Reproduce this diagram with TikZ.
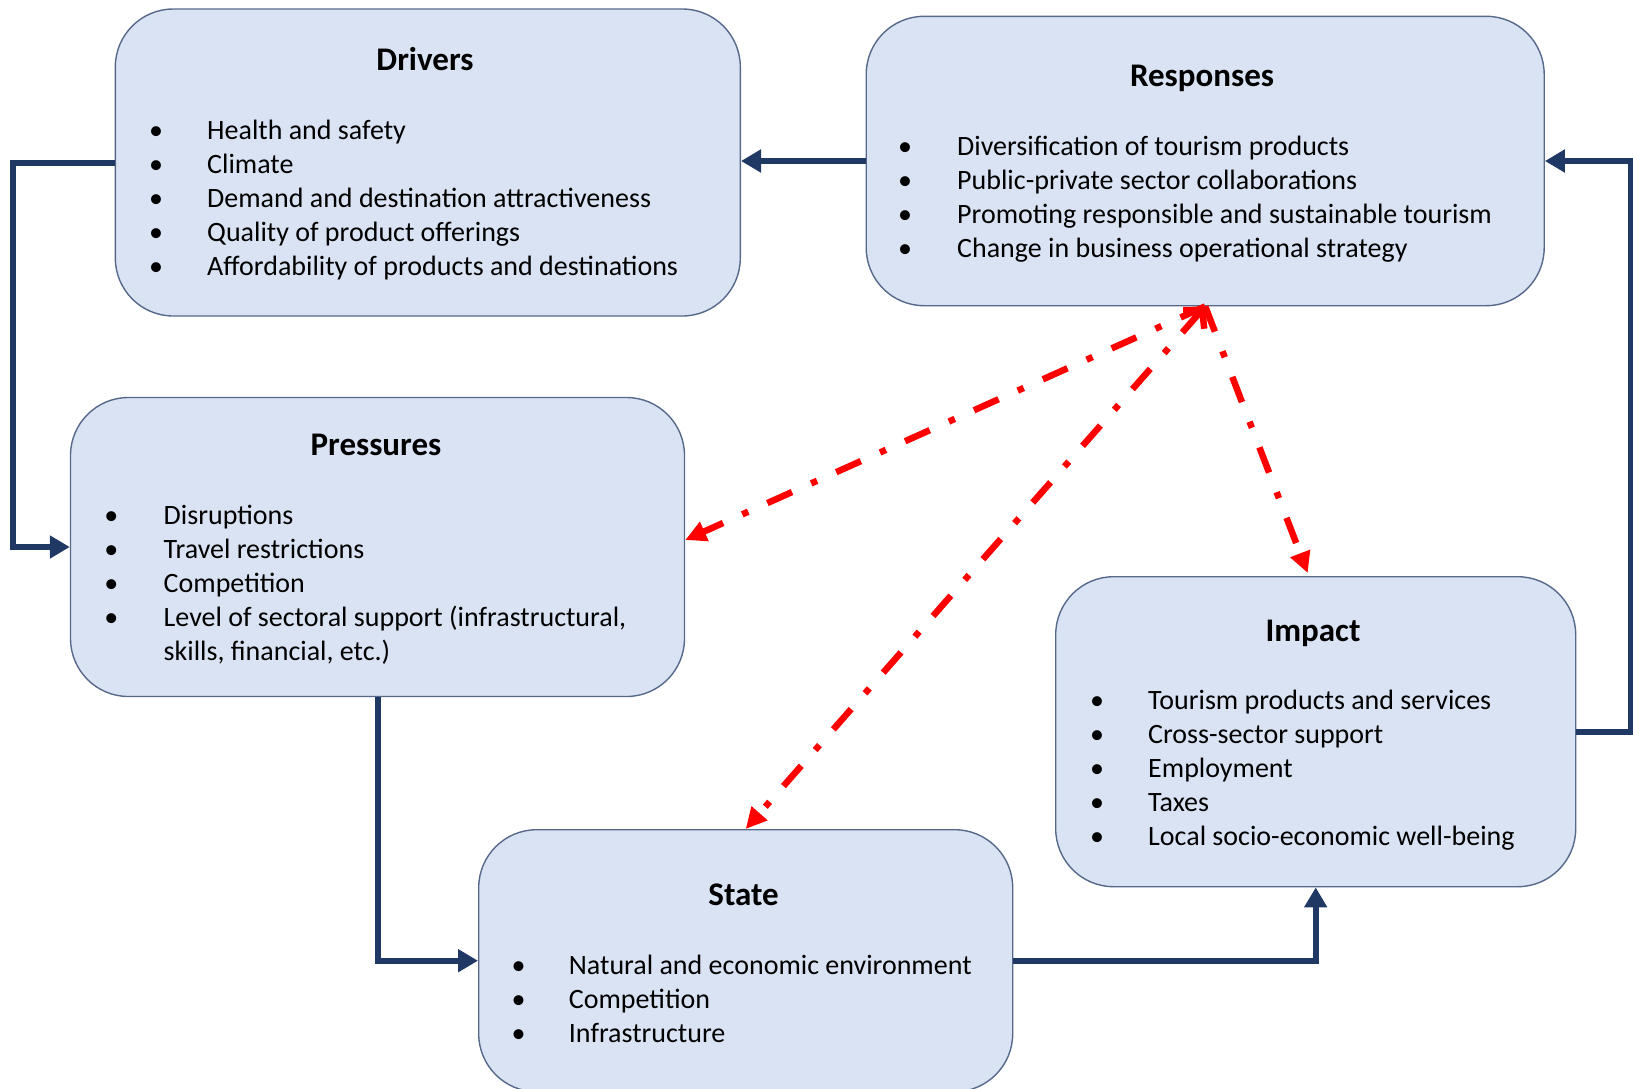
\documentclass[tikz,border=0pt]{standalone}
\usepackage{fontspec}
\setmainfont{Carlito}
\usetikzlibrary{arrows.meta,calc}
\definecolor{boxfill}{HTML}{DAE3F3}
\definecolor{boxline}{HTML}{56698A}
\definecolor{navy}{HTML}{203864}
\definecolor{redarr}{HTML}{FF0000}
\begin{document}
\begin{tikzpicture}[x=1pt,y=-1pt,
  panel/.style={draw=boxline, line width=1.4pt, fill=boxfill, rounded corners=58pt, anchor=north west, inner sep=0pt},
  ttl/.style={font=\fontsize{33}{40}\selectfont\bfseries, anchor=base, inner sep=0pt},
  item/.style={font=\fontsize{28}{34}\selectfont, anchor=base west, inner sep=0pt},
  bul/.style={font=\fontsize{28}{34}\selectfont, anchor=base, inner sep=0pt},
  flow/.style={draw=navy, line width=6pt, -{Triangle[length=20pt,width=22pt]}},
  react/.style={draw=redarr, line width=6.5pt, dash pattern=on 27pt off 21pt on 6.5pt off 21pt, -{Triangle[length=21pt,width=20pt]}}]
\useasboundingbox (0,0) rectangle (1633,1088);

% panels
\node[panel, minimum width=625pt, minimum height=307pt] (drivers) at (114.6,8.3) {};
\node[panel, minimum width=678pt, minimum height=289.4pt] (responses) at (865.5,15.6) {};
\node[panel, minimum width=614pt, minimum height=299pt] (pressures) at (69.8,396.8) {};
\node[panel, minimum width=520pt, minimum height=310pt] (impact) at (1055,576) {};
\node[panel, minimum width=534pt, minimum height=262pt] (state) at (478,829) {};

% Drivers text
\node[ttl] (dt) at (425,70.5) {Drivers};
\node[bul] (db1) at (156,139) {•}; \node[item] (d1) at (207,139) {Health and safety};
\node[bul] (db2) at (156,173) {•}; \node[item] (d2) at (207,173) {Climate};
\node[bul] (db3) at (156,207) {•}; \node[item] (d3) at (207,207) {Demand and destination attractiveness};
\node[bul] (db4) at (156,241) {•}; \node[item] (d4) at (207,241) {Quality of product offerings};
\node[bul] (db5) at (156,275) {•}; \node[item] (d5) at (207,275) {Affordability of products and destinations};

% Responses text
\node[ttl] (rt) at (1202,86.5) {Responses};
\node[bul] (rb1) at (905,155.5) {•}; \node[item] (r1) at (957,155.5) {Diversification of tourism products};
\node[bul] (rb2) at (905,189.5) {•}; \node[item] (r2) at (957,189.5) {Public-private sector collaborations};
\node[bul] (rb3) at (905,223.5) {•}; \node[item] (r3) at (957,223.5) {Promoting responsible and sustainable tourism};
\node[bul] (rb4) at (905,257.5) {•}; \node[item] (r4) at (957,257.5) {Change in business operational strategy};

% Pressures text
\node[ttl] (pt) at (376,455.5) {Pressures};
\node[bul] (pb1) at (111.4,524.5) {•}; \node[item] (p1) at (163.5,524.5) {Disruptions};
\node[bul] (pb2) at (111.4,558.5) {•}; \node[item] (p2) at (163.5,558.5) {Travel restrictions};
\node[bul] (pb3) at (111.4,592.5) {•}; \node[item] (p3) at (163.5,592.5) {Competition};
\node[bul] (pb4) at (111.4,626.5) {•}; \node[item] (p4) at (163.5,626.5) {Level of sectoral support (infrastructural,};
\node[item] (p5) at (163.5,660.5) {skills, financial, etc.)};

% Impact text
\node[ttl] (it) at (1313,641.5) {Impact};
\node[bul] (ib1) at (1097,709.5) {•}; \node[item] (i1) at (1148,709.5) {Tourism products and services};
\node[bul] (ib2) at (1097,743.5) {•}; \node[item] (i2) at (1148,743.5) {Cross-sector support};
\node[bul] (ib3) at (1097,777.5) {•}; \node[item] (i3) at (1148,777.5) {Employment};
\node[bul] (ib4) at (1097,811.5) {•}; \node[item] (i4) at (1148,811.5) {Taxes};
\node[bul] (ib5) at (1097,845.5) {•}; \node[item] (i5) at (1148,845.5) {Local socio-economic well-being};

% State text
\node[ttl] (st) at (743.6,905) {State};
\node[bul] (sb1) at (518.7,974.5) {•}; \node[item] (s1) at (568.7,974.5) {Natural and economic environment};
\node[bul] (sb2) at (518.7,1008.5) {•}; \node[item] (s2) at (568.7,1008.5) {Competition};
\node[bul] (sb3) at (518.7,1042.5) {•}; \node[item] (s3) at (568.7,1042.5) {Infrastructure};

% navy flow connectors
\draw[flow] (responses.west) -- (drivers.east |- responses.west);
\draw[flow] (drivers.west) -- ++(-102,0) |- (pressures.west);
\draw[flow] (pressures.south) |- (state.west);
\draw[flow] (state.east) -| (impact.south);
\draw[flow] (impact.east) -- ++(55,0) |- (responses.east);

% red reaction connectors
\draw[react] (responses.south) -- ($(pressures.east)+(0,-7)$);
\draw[react, {Straight Barb[length=13pt,width=28pt]}-{Triangle[length=21pt,width=20pt]}] (responses.south) -- (state.north);
\draw[react] (responses.south) -- ($(impact.north)+(-8,-3)$);
\end{tikzpicture}
\end{document}
